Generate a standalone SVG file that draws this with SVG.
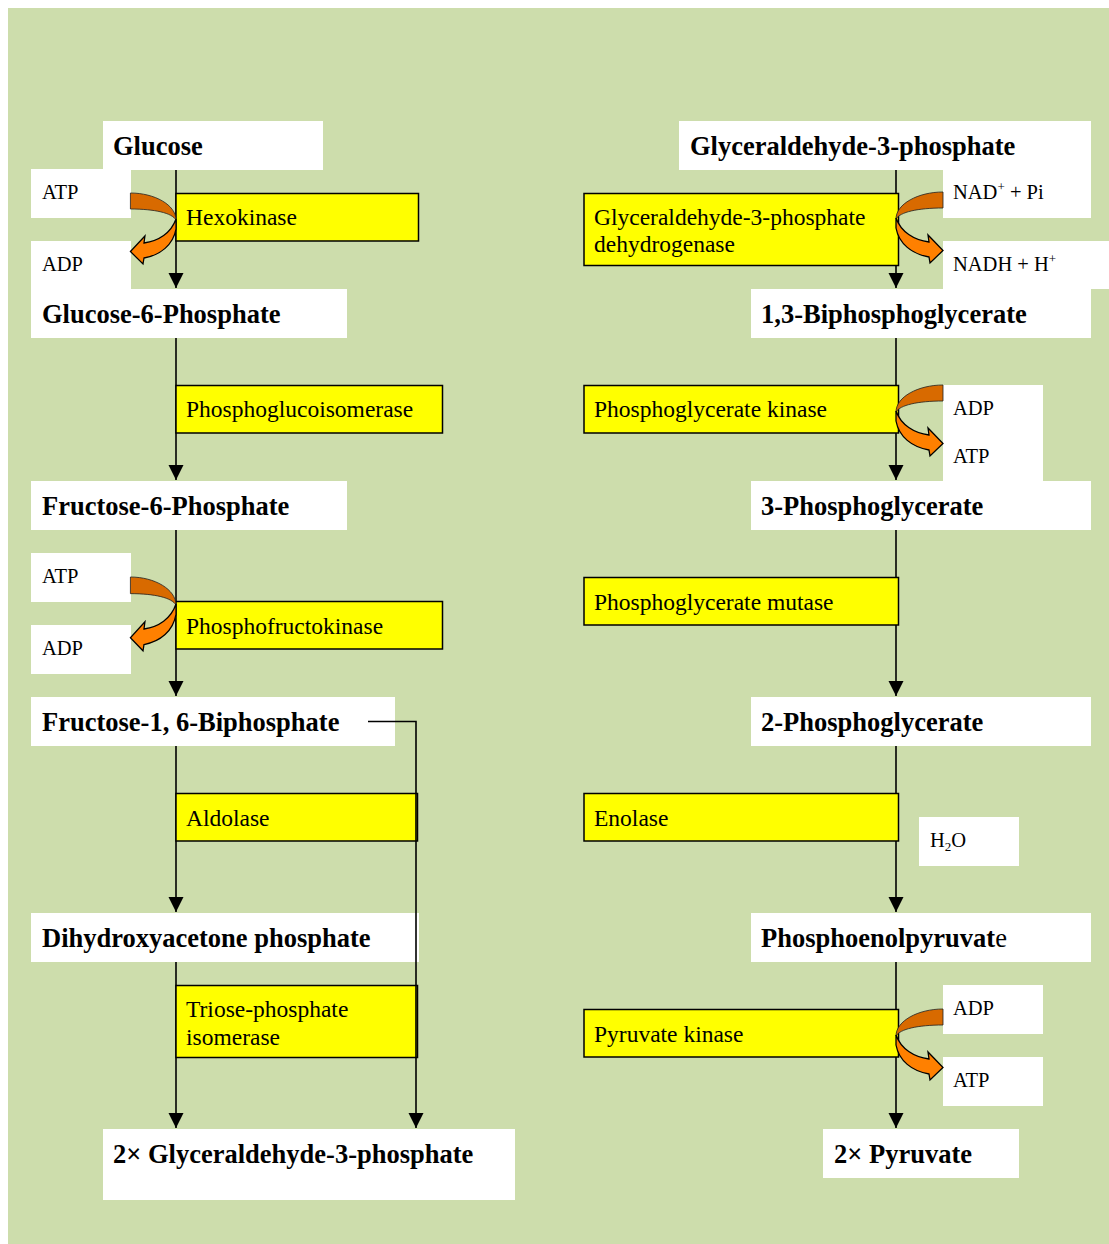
<svg xmlns="http://www.w3.org/2000/svg" width="1109" height="1244" viewBox="0 0 1109 1244">
<defs>
<style>
.box{fill:#FFFFFF}
.enz{fill:#FFFF00;stroke:#000;stroke-width:1.5}
text{font-family:"Liberation Serif","Times New Roman",serif;fill:#000}
.met{font-size:26.5px;font-weight:bold}
.et{font-size:23.5px}
.co{font-size:20.5px}
.ln{stroke:#000;stroke-width:1.6;fill:none}
.back{fill:#D86A00;stroke:#222;stroke-width:0.8}
.front{fill:#FF8000;stroke:#000;stroke-width:1.3;stroke-linejoin:miter}
</style>
<marker id="ah" markerUnits="userSpaceOnUse" markerWidth="16" markerHeight="16" refX="15" refY="7.5" orient="auto">
<path d="M0,0 L15,7.5 L0,15 Z" fill="#000"/>
</marker>
<g id="curl">
<path class="back" d="M47,0 C22,0 0,12 0,27 C4,20 22,16 47,16 Z"/>
<path class="front" d="M0,26 L0,36 C3,52 16,62 33,65 L34,71 L47,58.5 L32,43 L33,50 C18,48 5,40 0,26 Z"/>
</g>
</defs>
<rect x="8" y="8" width="1101" height="1236" fill="#CDDDAC"/>

<g id="connectors">
<path class="ln" d="M176,170 V288" marker-end="url(#ah)"/>
<path class="ln" d="M176,338 V480" marker-end="url(#ah)"/>
<path class="ln" d="M176,530 V696" marker-end="url(#ah)"/>
<path class="ln" d="M176,746 V912" marker-end="url(#ah)"/>
<path class="ln" d="M176,962 V1128" marker-end="url(#ah)"/>
<path class="ln" d="M896,170 V288" marker-end="url(#ah)"/>
<path class="ln" d="M896,338 V480" marker-end="url(#ah)"/>
<path class="ln" d="M896,530 V696" marker-end="url(#ah)"/>
<path class="ln" d="M896,746 V912" marker-end="url(#ah)"/>
<path class="ln" d="M896,962 V1128" marker-end="url(#ah)"/>
</g>

<g id="glucose"><rect class="box" x="103" y="121" width="220" height="49"/><text class="met" x="113" y="155">Glucose</text></g>
<g id="atp1"><rect class="box" x="31" y="169" width="100" height="49"/><text class="co" x="42" y="199">ATP</text></g>
<g id="adp1"><rect class="box" x="31" y="241" width="100" height="48"/><text class="co" x="42" y="271">ADP</text></g>
<g id="hexokinase"><rect class="enz" x="176" y="193.5" width="242.5" height="47.5"/><text class="et" x="186" y="225">Hexokinase</text></g>
<g id="g6p"><rect class="box" x="31" y="289" width="316" height="49"/><text class="met" x="42" y="323">Glucose-6-Phosphate</text></g>
<g id="pgi"><rect class="enz" x="176" y="385.5" width="266.5" height="47.5"/><text class="et" x="186" y="417">Phosphoglucoisomerase</text></g>
<g id="f6p"><rect class="box" x="31" y="481" width="316" height="49"/><text class="met" x="42" y="515">Fructose-6-Phosphate</text></g>
<g id="atp2"><rect class="box" x="31" y="553" width="100" height="49"/><text class="co" x="42" y="583">ATP</text></g>
<g id="adp2"><rect class="box" x="31" y="625" width="100" height="49"/><text class="co" x="42" y="655">ADP</text></g>
<g id="pfk"><rect class="enz" x="176" y="601.5" width="266.5" height="47.5"/><text class="et" x="186" y="634">Phosphofructokinase</text></g>
<g id="f16bp"><rect class="box" x="31" y="697" width="364" height="49"/><text class="met" x="42" y="731">Fructose-1, 6-Biphosphate</text></g>
<g id="aldolase"><rect class="enz" x="176" y="793.5" width="241.5" height="47.5"/><text class="et" x="186" y="826">Aldolase</text></g>
<g id="dhap"><rect class="box" x="31" y="913" width="388" height="49"/><text class="met" x="42" y="947">Dihydroxyacetone phosphate</text></g>
<g id="tpi"><rect class="enz" x="176" y="985.5" width="241.5" height="72"/><text class="et" x="186" y="1017">Triose-phosphate</text><text class="et" x="186" y="1045">isomerase</text></g>
<g id="g3p2x"><rect class="box" x="103" y="1129" width="412" height="71"/><text class="met" x="113" y="1163">2× Glyceraldehyde-3-phosphate</text></g>

<g id="g3p"><rect class="box" x="679" y="121" width="412" height="49"/><text class="met" x="690" y="155">Glyceraldehyde-3-phosphate</text></g>
<g id="nad"><rect class="box" x="943" y="169" width="148" height="49"/><text class="co" x="953" y="199">NAD<tspan font-size="13" dy="-8">+</tspan><tspan dy="8"> + Pi</tspan></text></g>
<g id="nadh"><rect class="box" x="943" y="241" width="166" height="48"/><text class="co" x="953" y="271">NADH + H<tspan font-size="13" dy="-8">+</tspan></text></g>
<g id="gapdh"><rect class="enz" x="584" y="193.5" width="314.5" height="72"/><text class="et" x="594" y="225">Glyceraldehyde-3-phosphate</text><text class="et" x="594" y="252">dehydrogenase</text></g>
<g id="bpg13"><rect class="box" x="751" y="289" width="340" height="49"/><text class="met" x="761" y="323">1,3-Biphosphoglycerate</text></g>
<g id="pgk"><rect class="enz" x="584" y="385.5" width="314.5" height="47.5"/><text class="et" x="594" y="417">Phosphoglycerate kinase</text></g>
<g id="adpatp3"><rect class="box" x="943" y="385" width="100" height="96"/><text class="co" x="953" y="415">ADP</text><text class="co" x="953" y="463">ATP</text></g>
<g id="pg3"><rect class="box" x="751" y="481" width="340" height="49"/><text class="met" x="761" y="515">3-Phosphoglycerate</text></g>
<g id="pgm"><rect class="enz" x="584" y="577.5" width="314.5" height="47.5"/><text class="et" x="594" y="610">Phosphoglycerate mutase</text></g>
<g id="pg2"><rect class="box" x="751" y="697" width="340" height="49"/><text class="met" x="761" y="731">2-Phosphoglycerate</text></g>
<g id="enolase"><rect class="enz" x="584" y="793.5" width="314.5" height="47.5"/><text class="et" x="594" y="826">Enolase</text></g>
<g id="h2o"><rect class="box" x="919" y="817" width="100" height="49"/><text class="co" x="930" y="847">H<tspan font-size="13" dy="4">2</tspan><tspan dy="-4">O</tspan></text></g>
<g id="pep"><rect class="box" x="751" y="913" width="340" height="49"/><text class="met" x="761" y="947">Phosphoenolpyruvat<tspan font-weight="normal">e</tspan></text></g>
<g id="adp4"><rect class="box" x="943" y="985" width="100" height="49"/><text class="co" x="953" y="1015">ADP</text></g>
<g id="atp4"><rect class="box" x="943" y="1057" width="100" height="49"/><text class="co" x="953" y="1087">ATP</text></g>
<g id="pk"><rect class="enz" x="584" y="1009.5" width="314.5" height="47.5"/><text class="et" x="594" y="1042">Pyruvate kinase</text></g>
<g id="pyruvate"><rect class="box" x="823" y="1129" width="196" height="49"/><text class="met" x="834" y="1163">2× Pyruvate</text></g>

<g id="connectors-over">
<path class="ln" d="M368,721.5 H416 V1128" marker-end="url(#ah)"/>
<use href="#curl" transform="translate(176,193) scale(-0.97,1)"/>
<use href="#curl" transform="translate(176,577) scale(-0.97,1.04)"/>
<use href="#curl" transform="translate(896,192)"/>
<use href="#curl" transform="translate(896,385)"/>
<use href="#curl" transform="translate(896,1009)"/>
</g>
</svg>
